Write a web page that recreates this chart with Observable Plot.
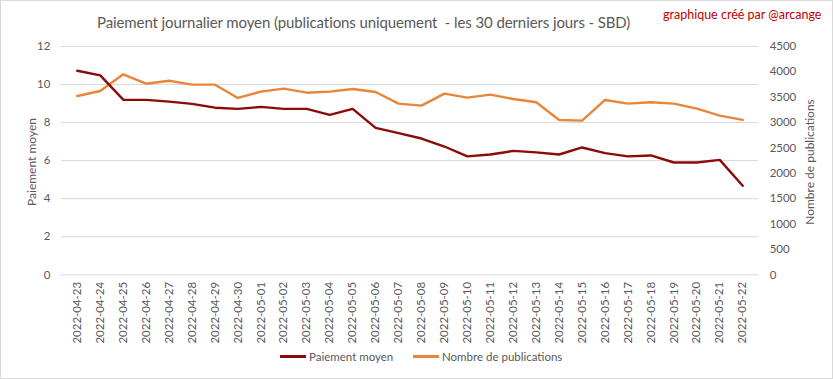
<!DOCTYPE html>
<html>
<head>
<meta charset="utf-8">
<script src="https://cdn.jsdelivr.net/npm/d3@7"></script>
<script src="https://cdn.jsdelivr.net/npm/@observablehq/plot@0.6"></script>
<style>
  body { margin: 0; background: #fff; }
  #chart { position: relative; width: 833px; height: 379px; box-sizing: border-box; border: 1px solid #D9D9D9; overflow: hidden; font-family: Lato, "Open Sans", sans-serif; }
  #chart svg { position: absolute; left: -1px; top: -1px; }
  .abs { position: absolute; white-space: nowrap; }
  #title { left: 96px; top: 12px; font-size: 15px; color: #595959; white-space: pre; letter-spacing: -0.1px; }
  #credit { left: 662px; top: 6px; font-size: 12.5px; color: #C00000; }
  .ytitle { font-size: 12px; color: #595959; transform: translate(-50%, -50%) rotate(-90deg); }
  .legend { top: 349px; font-size: 11.5px; color: #595959; display: flex; align-items: center; }
  .legend span.sw { display: inline-block; width: 26px; height: 2.5px; margin-right: 3px; }
</style>
</head>
<body>
<div id="chart">
  <div id="title" class="abs">Paiement journalier moyen (publications uniquement  - les 30 derniers jours - SBD)</div>
  <div id="credit" class="abs">graphique créé par @arcange</div>
</div>
<script>
const dates = ["2022-04-23","2022-04-24","2022-04-25","2022-04-26","2022-04-27","2022-04-28","2022-04-29","2022-04-30","2022-05-01","2022-05-02","2022-05-03","2022-05-04","2022-05-05","2022-05-06","2022-05-07","2022-05-08","2022-05-09","2022-05-10","2022-05-11","2022-05-12","2022-05-13","2022-05-14","2022-05-15","2022-05-16","2022-05-17","2022-05-18","2022-05-19","2022-05-20","2022-05-21","2022-05-22"];
const paiementMoyen = [10.72,10.48,9.2,9.19,9.1,8.98,8.78,8.72,8.82,8.72,8.72,8.4,8.72,7.72,7.44,7.16,6.74,6.22,6.32,6.51,6.43,6.32,6.69,6.39,6.22,6.27,5.9,5.9,6.04,4.68];
const nombrePublications = [3523,3622,3950,3765,3824,3746,3746,3484,3608,3667,3588,3608,3660,3602,3372,3333,3569,3490,3549,3464,3399,3051,3038,3445,3372,3399,3372,3274,3136,3051];
const leftTicks = [0,2,4,6,8,10,12];
const rightTicks = [0,500,1000,1500,2000,2500,3000,3500,4000,4500];
const seriesNames = ["Paiement moyen","Nombre de publications"];
const axisTitles = ["Paiement moyen","Nombre de publications"];
const colors = ["#8B0A0A","#E8853A"];

const leftMax = 12, rightMax = 4500;
const toLeft = v => v * leftMax / rightMax;

const rows1 = dates.map((d, i) => ({date: d, v: paiementMoyen[i]}));
const rows2 = dates.map((d, i) => ({date: d, v: toLeft(nombrePublications[i])}));

const W = 833, H = 379;
const mT = 46, mB = 104, mL = 61, mR = 73;

const plot = Plot.plot({
  width: W, height: H,
  marginTop: mT, marginBottom: mB, marginLeft: mL, marginRight: mR,
  style: {fontFamily: "Lato, 'Open Sans', sans-serif", fontSize: "11px", color: "#595959", background: "transparent", overflow: "visible"},
  x: {type: "point", domain: dates, padding: 0.5, label: null},
  y: {domain: [0, leftMax], label: null},
  marks: [
    Plot.gridY(leftTicks, {stroke: "#D9D9D9", strokeOpacity: 1, strokeWidth: 1}),
    Plot.axisY(leftTicks, {anchor: "left", tickSize: 0, tickPadding: 11, label: null, fill: "#595959", fontSize: 11.5}),
    Plot.axisY(rightTicks.map(toLeft), {anchor: "right", tickSize: 0, tickPadding: 11, label: null, fill: "#595959", fontSize: 11.5,
      tickFormat: d => String(Math.round(d * rightMax / leftMax))}),
    Plot.axisX({tickRotate: -90, tickSize: 0, tickPadding: 7, label: null, fill: "#595959", fontSize: 11.5}),
    Plot.line(rows2, {x: "date", y: "v", stroke: colors[1], strokeWidth: 2.4}),
    Plot.line(rows1, {x: "date", y: "v", stroke: colors[0], strokeWidth: 2.4})
  ]
});

const chart = document.getElementById("chart");
chart.appendChild(plot);

const midY = (mT + (H - mB)) / 2;
const t1 = document.createElement("div");
t1.className = "abs ytitle"; t1.textContent = axisTitles[0];
t1.style.left = "30px"; t1.style.top = midY + "px";
chart.appendChild(t1);
const t2 = document.createElement("div");
t2.className = "abs ytitle"; t2.textContent = axisTitles[1];
t2.style.left = "808px"; t2.style.top = midY + "px";
chart.appendChild(t2);

const legendX = [279, 412];
seriesNames.forEach((name, i) => {
  const lg = document.createElement("div");
  lg.className = "abs legend";
  lg.style.left = legendX[i] + "px";
  const sw = document.createElement("span");
  sw.className = "sw"; sw.style.background = colors[i];
  lg.appendChild(sw);
  lg.appendChild(document.createTextNode(name));
  chart.appendChild(lg);
});
</script>
</body>
</html>
